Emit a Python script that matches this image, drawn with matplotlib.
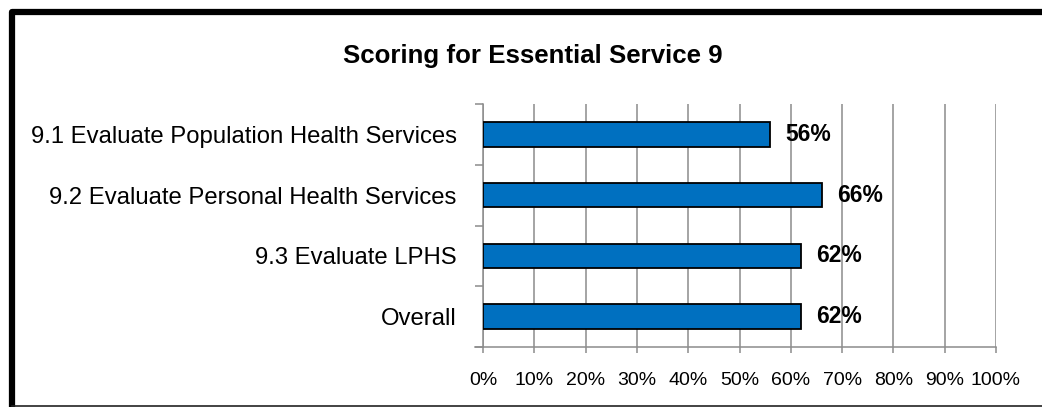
import matplotlib

matplotlib.use("Agg")
import matplotlib.pyplot as plt
from matplotlib.lines import Line2D
from matplotlib.ticker import FixedLocator

# ── Datos ────────────────────────────────────────────────────────────────
categories = [
    "9.1 Evaluate Population Health Services",
    "9.2 Evaluate Personal Health Services",
    "9.3 Evaluate LPHS",
    "Overall",
]
scores = [56, 66, 62, 62]
x_ticks = [0, 10, 20, 30, 40, 50, 60, 70, 80, 90, 100]
title = "Scoring for Essential Service 9"

BAR = "#0070C0"
GRID = "#8c8c8c"
FONT = "Liberation Sans"

fig = plt.figure(figsize=(10.42, 4.07), dpi=100)
ax = fig.add_axes([483 / 1042, 1 - 347 / 407, 513 / 1042, 243 / 407])

ypos = list(range(len(categories)))
ax.barh(ypos, scores, height=0.4, color=BAR, edgecolor="black", linewidth=1.3, zorder=3)

for y, v in zip(ypos, scores):
    ax.text(v + 3.0, y, f"{v}%", ha="left", va="center", fontsize=16.5,
            fontweight="bold", family=FONT, zorder=4)

ax.set_xlim(0, 100)
ax.set_ylim(len(categories) - 0.5, -0.5)
ax.set_xticks(x_ticks)
ax.set_xticklabels([f"{t}%" for t in x_ticks], fontsize=14, family=FONT)
ax.set_yticks(ypos)
ax.set_yticklabels(categories, fontsize=17.2, family=FONT)
ax.yaxis.set_minor_locator(FixedLocator([i - 0.5 for i in range(len(categories) + 1)]))

ax.tick_params(axis="y", which="major", length=0, pad=19)
ax.tick_params(axis="y", which="minor", length=6, width=1.1, color=GRID, direction="out")
ax.tick_params(axis="x", length=4, width=1.1, color=GRID, direction="out", pad=14)

ax.grid(axis="x", color=GRID, linewidth=1.1, zorder=0)
for side in ("top", "right"):
    ax.spines[side].set_visible(False)
for side in ("left", "bottom"):
    ax.spines[side].set_color(GRID)
    ax.spines[side].set_linewidth(1.1)

# linea horizontal del eje prolongada a la izquierda
fig.add_artist(Line2D([475 / 1042, 483 / 1042], [1 - 347 / 407] * 2,
                      color=GRID, linewidth=1.1, transform=fig.transFigure))

fig.text(533 / 1042, 1 - 56 / 407, title, ha="center", va="center",
         fontsize=18.6, fontweight="bold", family=FONT)

# marco del grafico
fig.add_artist(Line2D([11.5 / 1042, 11.5 / 1042, 1.02], [1 - 405 / 407, 1 - 12 / 407, 1 - 12 / 407],
                      color="black", linewidth=4.5, solid_joinstyle="round",
                      transform=fig.transFigure))
fig.add_artist(Line2D([11.5 / 1042, 1.0], [1 - 405.5 / 407] * 2,
                      color="#222222", linewidth=1.2, transform=fig.transFigure))

fig.savefig("out.png", dpi=100)
